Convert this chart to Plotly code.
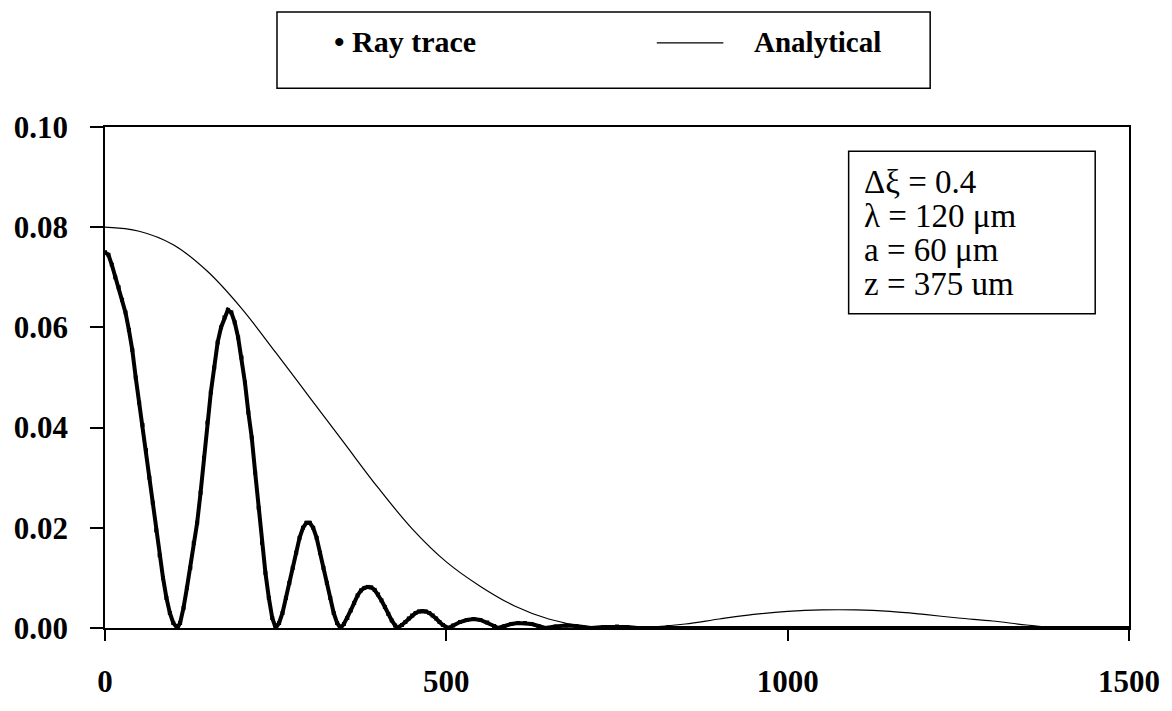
import plotly.graph_objects as go

# Ray trace
ray_x = [0, 5, 10, 15, 20, 25, 30, 35, 40, 45, 50, 55, 60, 65, 70, 75, 80, 85, 90, 95, 100, 106,
         110, 115, 120, 125, 130, 135, 140, 145, 150, 155, 160, 165, 170, 175, 180, 185, 190, 195,
         200, 205, 210, 215, 220, 225, 230, 235, 240, 245, 250,
         255, 260, 265, 270, 275, 280, 285, 290, 295, 300, 305, 310, 315, 320, 325, 330, 335, 340, 345,
         350, 355, 360, 365, 370, 375, 380, 385, 390, 395, 400, 405, 410, 415, 420, 425, 428,
         435, 440, 445, 450, 455, 460, 465, 470, 475, 480, 485, 490, 495, 503,
         510, 520, 530, 540, 550, 560, 570, 576,
         585, 595, 605, 615, 625, 635, 645,
         660, 675, 690, 700, 712,
         730, 750, 765, 780, 800, 825, 850,
         900, 950, 1000, 1050, 1100, 1150, 1200, 1250, 1300, 1350, 1400, 1450, 1500]
ray_y = [0.075, 0.0745, 0.0725, 0.070, 0.068, 0.0655, 0.063, 0.0595, 0.0555, 0.050, 0.045, 0.0405,
         0.0355, 0.030, 0.025, 0.0195, 0.0145, 0.010, 0.006, 0.003, 0.001, 0.0,
         0.001, 0.004, 0.008, 0.012, 0.017, 0.021, 0.027, 0.034, 0.041, 0.047, 0.052, 0.057, 0.060,
         0.062, 0.0635, 0.063, 0.061, 0.058, 0.054, 0.049, 0.043, 0.038, 0.031, 0.024, 0.017, 0.011,
         0.006, 0.002, 0.0,
         0.001, 0.003, 0.006, 0.009, 0.012, 0.015, 0.018, 0.020, 0.021, 0.021, 0.020, 0.018, 0.015,
         0.012, 0.009, 0.006, 0.003, 0.001, 0.0,
         0.0008, 0.002, 0.0035, 0.005, 0.0065, 0.0075, 0.008, 0.0082, 0.0081, 0.0076, 0.0067, 0.0055,
         0.0042, 0.0028, 0.0015, 0.0005, 0.0,
         0.0006, 0.0012, 0.0019, 0.0025, 0.003, 0.0033, 0.0034, 0.0033, 0.003, 0.0025, 0.0019,
         0.0012, 0.0006, 0.0,
         0.0005, 0.0012, 0.0016, 0.0018, 0.0016, 0.0011, 0.0004, 0.0,
         0.0004, 0.0008, 0.001, 0.001, 0.0008, 0.0004, 0.0,
         0.0003, 0.0005, 0.0004, 0.0002, 0.0,
         0.0002, 0.0003, 0.0002, 0.0, 0.0, 0.0002, 0.0,
         0.0, 0.0, 0.0, 0.0, 0.0, 0.0, 0.0, 0.0, 0.0, 0.0, 0.0, 0.0, 0.0]

# Analytical
ana_x = [0, 50, 100, 150, 200, 250, 300, 350, 400, 450, 500, 550, 600, 650, 700, 750, 800,
         850, 900, 950, 1000, 1050, 1100, 1150, 1200, 1250, 1300, 1350, 1400, 1450, 1500]
ana_y = [0.0800, 0.0792, 0.0765, 0.0712, 0.0638, 0.0550, 0.0460, 0.0370, 0.0280, 0.0198,
         0.0132, 0.0083, 0.0044, 0.0018, 0.0004, 0.0000, 0.0002, 0.0008, 0.0018, 0.0027,
         0.0033, 0.0036, 0.0036, 0.0033, 0.0027, 0.0020, 0.0014, 0.0006, 0.0000, 0.0000, 0.0000]

x_ticks = [0, 500, 1000, 1500]
y_ticks = [0.00, 0.02, 0.04, 0.06, 0.08, 0.10]
legend_labels = ["\u2022 Ray trace", "Analytical"]
info_lines = ["\u0394\u03be = 0.4", "\u03bb = 120 \u03bcm", "a = 60 \u03bcm", "z = 375 um"]

FONT = "Liberation Serif, Times New Roman, serif"

fig = go.Figure()
fig.add_trace(go.Scatter(x=ana_x, y=ana_y, mode="lines", name="Analytical",
                         line=dict(color="black", width=1.2, shape="spline", smoothing=1.0),
                         showlegend=False))
fig.add_trace(go.Scatter(x=ray_x, y=ray_y, mode="lines+markers", name="Ray trace",
                         line=dict(color="black", width=4),
                         marker=dict(color="black", size=4, symbol="square"),
                         showlegend=False))

W, H = 1172, 711
L, R, T, B = 105, 37, 127, 66
pw, ph = W - L - R, H - T - B

def px(xp):
    return (xp - L) / pw

def py(yp):
    return (H - B - yp) / ph

shapes = [
    dict(type="rect", xref="paper", yref="paper", x0=px(278), x1=px(935), y0=py(87), y1=py(8),
         line=dict(color="black", width=1.5), fillcolor="white"),
    dict(type="line", xref="paper", yref="paper", x0=px(660), x1=px(727), y0=py(40), y1=py(40),
         line=dict(color="black", width=1.2)),
    dict(type="rect", xref="paper", yref="paper", x0=px(853), x1=px(1101), y0=py(320), y1=py(152),
         line=dict(color="black", width=1.5), fillcolor="white", layer="above"),
]

annotations = [
    dict(xref="paper", yref="paper", x=px(333), y=py(39), xanchor="left", yanchor="middle",
         text="<b>" + legend_labels[0] + "</b>", showarrow=False,
         font=dict(family=FONT, size=30, color="black")),
    dict(xref="paper", yref="paper", x=px(756), y=py(39), xanchor="left", yanchor="middle",
         text="<b>" + legend_labels[1] + "</b>", showarrow=False,
         font=dict(family=FONT, size=29, color="black")),
]
for i, t in enumerate(info_lines):
    annotations.append(dict(xref="paper", yref="paper", x=px(866), y=py(184 + 35 * i),
                            xanchor="left", yanchor="middle", text=t, showarrow=False,
                            font=dict(family=FONT, size=33, color="black")))

fig.update_layout(
    width=W, height=H,
    margin=dict(l=L, r=R, t=T, b=B, pad=0),
    paper_bgcolor="white", plot_bgcolor="white",
    shapes=shapes, annotations=annotations,
    font=dict(family=FONT, color="black"),
)
fig.update_xaxes(range=[0, 1500], tickvals=x_ticks, ticktext=[f"<b>{v}</b>" for v in x_ticks],
                 showgrid=False, zeroline=False, showline=True, linecolor="black", linewidth=1.5,
                 mirror=True, ticks="outside", ticklen=11, tickwidth=1.5, tickcolor="black",
                 tickfont=dict(family=FONT, size=31, color="black"), ticklabelstandoff=14)
fig.update_yaxes(range=[0, 0.10], tickvals=y_ticks, ticktext=[f"<b>{v:.2f}</b>" for v in y_ticks],
                 showgrid=False, zeroline=False, showline=True, linecolor="black", linewidth=1.5,
                 mirror=True, ticks="outside", ticklen=13, tickwidth=1.5, tickcolor="black",
                 tickfont=dict(family=FONT, size=31, color="black"), ticklabelstandoff=16)

fig.write_html("out.html")
